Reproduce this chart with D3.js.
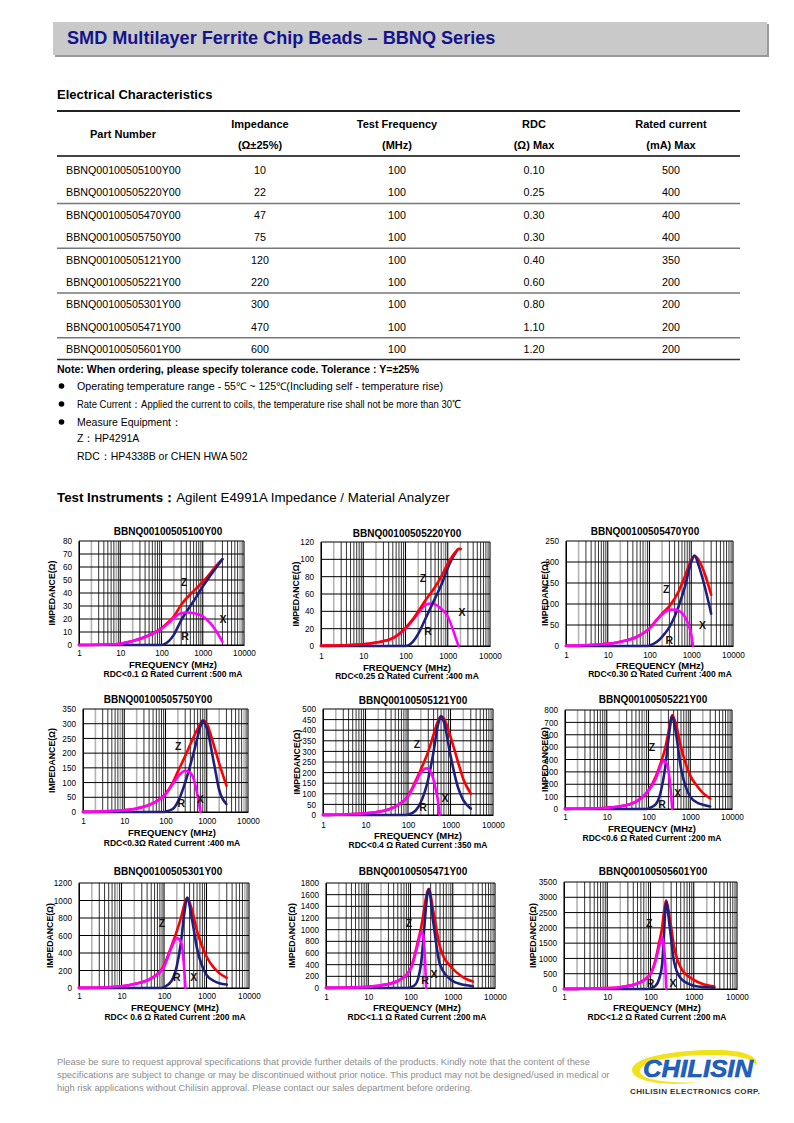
<!DOCTYPE html>
<html><head><meta charset="utf-8">
<script src="https://cdn.jsdelivr.net/npm/d3@7"></script>
<style>
body{margin:0;background:#fff;}
svg{display:block;font-family:"Liberation Sans",Arial,Helvetica,sans-serif;}
</style></head><body>
<svg id="page" width="794" height="1123"></svg>
<script>
// ---------------- table data ----------------
const headerTop = ["Part Number","Impedance","Test Frequency","RDC","Rated current"];
const headerBottom = ["","(Ω±25%)","(MHz)","(Ω) Max","(mA) Max"];
const partNumbers = ["BBNQ00100505100Y00","BBNQ00100505220Y00","BBNQ00100505470Y00","BBNQ00100505750Y00","BBNQ00100505121Y00","BBNQ00100505221Y00","BBNQ00100505301Y00","BBNQ00100505471Y00","BBNQ00100505601Y00"];
const impedanceValues = ["10","22","47","75","120","220","300","470","600"];
const testFrequency = ["100","100","100","100","100","100","100","100","100"];
const rdcMax = ["0.10","0.25","0.30","0.30","0.40","0.60","0.80","1.10","1.20"];
const ratedCurrent = ["500","400","400","400","350","200","200","200","200"];

const noteLines = ["Operating temperature range - 55℃ ~ 125℃(Including self - temperature rise)",
  "Rate Current：Applied the current to coils, the temperature rise shall not be more than 30℃",
  "Measure Equipment："];
const equipLines = ["Z：HP4291A","RDC：HP4338B or CHEN HWA 502"];
const footerLines = ["Please be sure to request approval specifications that provide further details of the products. Kindly note that the content of these",
  "specifications are subject to change or may be discontinued without prior notice. This product may not be designed/used in medical or",
  "high risk applications without Chilisin approval. Please contact our sales department before ordering."];

// ---------------- chart data ----------------
const chartTitles = ["BBNQ00100505100Y00","BBNQ00100505220Y00","BBNQ00100505470Y00","BBNQ00100505750Y00","BBNQ00100505121Y00","BBNQ00100505221Y00","BBNQ00100505301Y00","BBNQ00100505471Y00","BBNQ00100505601Y00"];
const chartNotes = ["RDC<0.1 Ω Rated Current :500 mA","RDC<0.25 Ω Rated Current :400 mA","RDC<0.30 Ω Rated Current :400 mA","RDC<0.3Ω Rated Current :400 mA","RDC<0.4 Ω Rated Current :350  mA","RDC<0.6 Ω Rated Current :200 mA","RDC< 0.6 Ω Rated Current :200 mA","RDC<1.1 Ω Rated Current :200 mA","RDC<1.2 Ω Rated Current :200 mA"];
const yMaxValues = [80,120,250,350,500,800,1200,1800,3500];
const yStepValues = [10,20,50,50,50,100,200,200,500];
const xTickLabels = ["1","10","100","1000","10000"];

// [frequency MHz, ohms]
const z100 = [[1,0],[5,0.4],[10,1],[20,3],[50,7.5],[100,13],[150,18],[200,22],[300,31],[500,39],[700,43.5],[1000,48.5],[1500,55],[2000,60],[3000,66]];
const r100 = [[1,0],[100,0],[120,0.8],[150,3],[200,8],[300,19],[500,30],[700,37],[1000,45],[1500,53],[2000,58.5],[3000,66]];
const x100 = [[1,0],[5,0.4],[10,1],[20,3],[50,7.5],[100,12.5],[150,17],[200,21],[300,24.5],[400,25],[700,24],[1000,22],[1500,17],[2000,12],[3000,2.5]];

const z220 = [[1,0.3],[2,0.6],[5,1.2],[10,2],[20,4],[50,9],[100,21],[150,31],[200,40],[300,53],[500,68],[700,80],[1000,95],[1500,108],[1800,112],[2000,112]];
const r220 = [[1,0],[100,0],[120,1],[150,5],[200,14],[300,32],[500,55],[700,70],[1000,90],[1500,107],[1800,112],[2000,112]];
const x220 = [[1,0.3],[2,0.6],[5,1.2],[10,2],[20,4],[50,9],[100,20],[150,30],[200,38],[300,47.5],[400,49],[500,48],[700,43],[1000,34],[1300,20],[1600,7],[1800,0]];

const z470 = [[1,0.5],[2,1],[5,3],[10,5],[20,10],[50,22],[100,42],[150,63],[200,77],[300,95],[500,130],[700,165],[1000,205],[1200,215],[1500,205],[2000,178],[3000,122]];
const r470 = [[1,0],[90,0],[100,1],[150,10],[200,22],[300,45],[500,95],[700,140],[1000,200],[1200,215],[1500,192],[2000,150],[3000,77]];
const x470 = [[1,0.5],[2,1],[5,3],[10,5],[20,10],[50,22],[100,42],[150,62],[200,75],[300,86],[400,87],[500,84],[700,70],[900,45],[1000,28],[1100,0]];

const z750 = [[1,0.5],[2,1],[5,3],[10,6],[20,12],[50,30],[100,62],[150,100],[200,138],[300,190],[500,260],[700,300],[800,312],[1000,300],[1500,225],[2000,165],[3000,90]];
const r750 = [[1,0],[90,0],[100,1],[150,10],[200,35],[300,100],[500,210],[700,290],[800,310],[1000,285],[1500,165],[2000,75],[3000,27]];
const x750 = [[1,0.5],[2,1],[5,3],[10,6],[20,12],[50,30],[100,60],[150,95],[200,120],[300,140],[400,133],[500,105],[600,55],[700,0]];

const z121 = [[1,0.5],[2,1],[5,4],[10,8],[20,15],[50,40],[100,90],[150,160],[200,215],[300,300],[400,380],[500,440],[600,465],[700,455],[1000,370],[1500,250],[2000,170],[3000,100]];
const r121 = [[1,0],[90,0],[100,2],[150,20],[200,60],[300,170],[400,300],[500,420],[600,465],[700,440],[1000,280],[1500,130],[2000,70],[3000,30]];
const x121 = [[1,0.5],[2,1],[5,4],[10,8],[20,15],[50,40],[100,88],[150,150],[200,200],[270,220],[350,200],[450,120],[520,50],[550,0]];

const z221 = [[1,1],[2,2],[5,5],[10,10],[20,20],[50,60],[100,150],[150,265],[200,380],[250,490],[300,620],[370,760],[450,690],[600,500],[1000,270],[1500,180],[2000,130],[3000,85]];
const r221 = [[1,0],[90,0],[100,5],[150,40],[200,150],[250,330],[300,560],[370,750],[450,620],[600,330],[1000,100],[1500,50],[2000,35],[3000,20]];
const x221 = [[1,1],[2,2],[5,5],[10,10],[20,20],[50,60],[100,150],[150,245],[200,360],[230,390],[280,360],[330,200],[370,0]];

const z301 = [[1,1],[2,3],[5,8],[10,20],[20,45],[50,110],[100,260],[150,480],[200,650],[250,800],[300,950],[350,1030],[450,900],[600,650],[1000,360],[1500,230],[2000,170],[3000,115]];
const r301 = [[1,0],[90,0],[100,10],[150,80],[200,250],[250,520],[300,850],[350,1030],[450,800],[600,450],[1000,150],[1500,80],[2000,55],[3000,40]];
const x301 = [[1,1],[2,3],[5,8],[10,20],[20,45],[50,110],[100,240],[150,460],[200,570],[250,530],[290,300],[320,0]];

const z471 = [[1,2],[2,4],[5,10],[10,20],[20,45],[50,120],[100,330],[150,800],[180,1050],[200,1250],[250,1650],[270,1700],[350,1300],[500,700],[1000,330],[1500,220],[2000,160],[3000,110]];
const r471 = [[1,0],[90,0],[100,10],[130,60],[150,150],[180,450],[200,800],[250,1600],[270,1690],[350,1100],[500,400],[1000,120],[1500,70],[2000,50],[3000,30]];
const x471 = [[1,2],[2,4],[5,10],[10,20],[20,45],[50,120],[100,320],[150,750],[180,960],[200,900],[220,500],[235,0]];

const z601 = [[1,2],[2,5],[5,12],[10,30],[20,60],[50,180],[100,500],[130,950],[160,1550],[185,2000],[200,2400],[230,2900],[280,2300],[350,1400],[500,700],[1000,300],[1500,180],[2000,130],[3000,80]];
const r601 = [[1,0],[80,0],[100,20],[130,100],[160,350],[185,800],[200,1500],[230,2850],[280,2000],[350,900],[500,350],[1000,110],[1500,70],[2000,55],[3000,40]];
const x601 = [[1,2],[2,5],[5,12],[10,30],[20,60],[50,180],[100,480],[130,900],[160,1400],[185,1700],[200,1500],[220,800],[232,0]];

const zSeries = [z100,z220,z470,z750,z121,z221,z301,z471,z601];
const rSeries = [r100,r220,r470,r750,r121,r221,r301,r471,r601];
const xSeries = [x100,x220,x470,x750,x121,x221,x301,x471,x601];

// curve label anchors [freq, ohms] for Z, R, X
const zLabelAt = [[350,48],[260,78],[250,136],[204,224],[163,335],[121,500],[90,743],[92,1114],[93,2160]];
const rLabelAt = [[370,7],[340,17],[300,14],[240,30],[225,38],[210,40],[200,125],[220,137],[100,196]];
const xLabelAt = [[3100,20],[2180,39],[1860,50],[700,44],[740,80],[500,130],[500,125],[360,240],[330,196]];

// ---------------- layout (not data) ----------------
const boxes = [
 {l:79,r:244,t:541,b:645,tx:168,ty:535,fx:173,fy:668,ry:677,yl:52},
 {l:321,r:490,t:542,b:646,tx:407,ty:537,fx:407,fy:671,ry:679,yl:296},
 {l:566,r:733,t:541,b:646,tx:645,ty:535,fx:660,fy:669,ry:677,yl:545},
 {l:83,r:248,t:709,b:812,tx:158,ty:703,fx:172,fy:836,ry:846,yl:52},
 {l:323,r:493,t:709,b:815,tx:413,ty:704,fx:418,fy:839,ry:848,yl:297},
 {l:565,r:732,t:710,b:809,tx:653,ty:703,fx:652,fy:832,ry:841,yl:545},
 {l:79,r:249,t:883,b:988,tx:168,ty:875,fx:175,fy:1011,ry:1020,yl:50},
 {l:326,r:495,t:883,b:988,tx:413,ty:875,fx:417,fy:1011,ry:1020,yl:292},
 {l:564,r:737,t:882,b:989,tx:653,ty:875,fx:657,fy:1011,ry:1020,yl:533}
];
const tickOffset = [11,13,12,12,13,11,11,12,11];
const redOnTop = [false,true,false,false,false,false,false,false,false];
const noteWidths = [366,384,null];

const svg = d3.select("#page");

// ---------------- header ----------------
svg.append("rect").attr("x",55).attr("y",24).attr("width",714).attr("height",33).attr("fill","#9a9a9a");
svg.append("rect").attr("x",53).attr("y",22).attr("width",714).attr("height",33).attr("fill","#c9c9c9");
svg.append("text").attr("x",67).attr("y",44).attr("font-size",18.1).attr("font-weight","bold")
  .attr("fill","#14148a").text("SMD Multilayer Ferrite Chip Beads – BBNQ Series");

svg.append("text").attr("x",57).attr("y",99).attr("font-size",13).attr("font-weight","bold").text("Electrical Characteristics");

// ---------------- table ----------------
const colCenters = [123,260,397,534,671];
svg.append("line").attr("x1",57).attr("x2",740).attr("y1",111).attr("y2",111).attr("stroke","#222").attr("stroke-width",2);
svg.append("line").attr("x1",57).attr("x2",740).attr("y1",156).attr("y2",156).attr("stroke","#444").attr("stroke-width",2);
headerTop.forEach((h,i)=>{
  svg.append("text").attr("x",colCenters[i]).attr("y", i===0?138:127.5).attr("text-anchor","middle")
    .attr("font-size",11).attr("font-weight","bold").text(h);
  if(headerBottom[i]) svg.append("text").attr("x",colCenters[i]).attr("y",149).attr("text-anchor","middle")
    .attr("font-size",11).attr("font-weight","bold").text(headerBottom[i]);
});
const rowY = d3.scaleLinear().domain([0,8]).range([170,349]);
partNumbers.forEach((p,i)=>{
  const y = rowY(i)+4;
  svg.append("text").attr("x",66).attr("y",y).attr("font-size",10.7).text(p);
  [impedanceValues[i],testFrequency[i],rdcMax[i],ratedCurrent[i]].forEach((v,j)=>{
    svg.append("text").attr("x",colCenters[j+1]).attr("y",y).attr("text-anchor","middle").attr("font-size",10.7).text(v);
  });
});
[1,3,5,7].forEach(i=>{
  const y=(rowY(i)+rowY(i+1))/2;
  svg.append("line").attr("x1",57).attr("x2",740).attr("y1",y).attr("y2",y).attr("stroke","#777").attr("stroke-width",1.5);
});
svg.append("line").attr("x1",57).attr("x2",740).attr("y1",359.5).attr("y2",359.5).attr("stroke","#333").attr("stroke-width",1.5);

// ---------------- notes ----------------
svg.append("text").attr("x",57).attr("y",373).attr("font-size",10.5).attr("font-weight","bold")
  .text("Note: When ordering, please specify tolerance code. Tolerance : Y=±25%");
noteLines.forEach((t,i)=>{
  const y=386+i*18;
  svg.append("circle").attr("cx",61.5).attr("cy",y).attr("r",2.8).attr("fill","#000");
  const tx = svg.append("text").attr("x",77).attr("y",y+3.8).attr("font-size",10.5).text(t);
  if(noteWidths[i]) tx.attr("textLength",noteWidths[i]).attr("lengthAdjust","spacingAndGlyphs");
});
equipLines.forEach((t,i)=>{
  svg.append("text").attr("x",77).attr("y",442+i*18).attr("font-size",10.5).text(t);
});
const ti = svg.append("text").attr("x",57).attr("y",501.5).attr("font-size",13.3);
ti.append("tspan").attr("font-weight","bold").text("Test Instruments：");
ti.append("tspan").text("Agilent E4991A Impedance / Material Analyzer");

// ---------------- charts ----------------
boxes.forEach((bx,k)=>{
  const g = svg.append("g");
  const x = d3.scaleLog().domain([1,10000]).range([bx.l,bx.r]);
  const y = d3.scaleLinear().domain([0,yMaxValues[k]]).range([bx.b,bx.t]);
  const vlines=[];
  for(let d=1; d<10000; d*=10){ for(let n=1;n<10;n++) vlines.push(n*d); }
  vlines.push(10000);
  vlines.forEach(v=>{
    const n = Math.round(v/Math.pow(10,Math.floor(Math.log10(v)+1e-9)));
    const gray = (n===2) || ((k+Math.floor(Math.log10(v)))%3===0 && n===8);
    g.append("line").attr("x1",x(v)).attr("x2",x(v)).attr("y1",bx.t).attr("y2",bx.b)
      .attr("stroke", gray?"#b4b4b4":"#000").attr("stroke-width", gray?1.6:(n===1?1.1:0.8));
  });
  const yt = d3.range(0, yMaxValues[k]+1e-6, yStepValues[k]);
  yt.forEach(v=>{
    g.append("line").attr("x1",bx.l).attr("x2",bx.r).attr("y1",y(v)).attr("y2",y(v))
      .attr("stroke","#000").attr("stroke-width",v===0?1.2:1);
  });
  const ya = d3.axisLeft(y).tickValues(yt).tickSize(0).tickPadding(7).tickFormat(d3.format("d"));
  const yg = g.append("g").attr("transform",`translate(${bx.l},0)`).call(ya);
  yg.select(".domain").attr("stroke","#000");
  yg.selectAll("text").attr("font-size",8.2).attr("font-family","Liberation Sans, Arial, sans-serif").attr("fill","#000");
  const xa = d3.axisBottom(x).tickValues([1,10,100,1000,10000]).tickSize(0).tickPadding(0)
      .tickFormat((d,i)=>xTickLabels[i]);
  const xg = g.append("g").attr("transform",`translate(0,${bx.b})`).call(xa);
  xg.select(".domain").attr("stroke","#000");
  xg.selectAll("text").attr("font-size",8.2).attr("font-family","Liberation Sans, Arial, sans-serif").attr("fill","#000")
    .attr("dy",null).attr("y",tickOffset[k]);
  const line = d3.line().x(d=>x(d[0])).y(d=>y(d[1])).curve(d3.curveMonotoneX);
  const drawOne=(data,color)=>g.append("path").datum(data).attr("d",line).attr("fill","none")
      .attr("stroke",color).attr("stroke-width",2.6).attr("stroke-linejoin","round").attr("stroke-linecap","round");
  if(redOnTop[k]){ drawOne(xSeries[k],"#ff00ff"); drawOne(rSeries[k],"#1f1f7e"); drawOne(zSeries[k],"#ff0000"); }
  else { drawOne(zSeries[k],"#ff0000"); drawOne(rSeries[k],"#1f1f7e"); drawOne(xSeries[k],"#ff00ff"); }
  [["Z",zLabelAt[k]],["R",rLabelAt[k]],["X",xLabelAt[k]]].forEach(([t,p])=>{
    g.append("text").attr("x",x(p[0])).attr("y",y(p[1])).attr("dy","0.35em").attr("text-anchor","middle")
      .attr("font-size",10.5).attr("font-weight","bold").attr("fill","#111").text(t);
  });
  g.append("text").attr("x",bx.tx).attr("y",bx.ty).attr("text-anchor","middle").attr("font-size",10)
    .attr("font-weight","bold").text(chartTitles[k]);
  g.append("text").attr("x",bx.fx).attr("y",bx.fy).attr("text-anchor","middle").attr("font-size",9.5)
    .attr("font-weight","bold").text("FREQUENCY (MHz)");
  g.append("text").attr("x",bx.fx).attr("y",bx.ry).attr("text-anchor","middle").attr("font-size",8.5)
    .attr("font-weight","bold").text(chartNotes[k]);
  g.append("text").attr("transform",`translate(${bx.yl+3},${(bx.t+bx.b)/2}) rotate(-90)`).attr("text-anchor","middle")
    .attr("font-size",8.7).attr("font-weight","bold").text("IMPEDANCE(Ω)");
});

// ---------------- footer ----------------
footerLines.forEach((t,i)=>{
  svg.append("text").attr("x",57).attr("y",1065+i*13).attr("font-size",9.35).attr("fill","#8c8c8c").text(t);
});
const logo = svg.append("g");
logo.append("path").attr("d","M632,1070 C632,1056 680,1049 722,1050 C748,1051 760,1058 756,1066 C754,1058 735,1055 712,1055 C676,1055 640,1061 640,1071 C640,1080 670,1084 700,1082 C668,1087 632,1082 632,1070 Z")
  .attr("fill","#f2e21a");
logo.append("text").attr("x",698).attr("y",1077).attr("text-anchor","middle").attr("font-size",23)
  .attr("font-weight","900").attr("font-style","italic").attr("fill","#1c63c6").attr("stroke","#0d3f99").attr("stroke-width",0.5)
  .attr("textLength",110).attr("lengthAdjust","spacingAndGlyphs").text("CHILISIN");
logo.append("text").attr("x",695).attr("y",1094).attr("text-anchor","middle").attr("font-size",8)
  .attr("font-weight","bold").attr("fill","#333").attr("textLength",130).text("CHILISIN ELECTRONICS CORP.");
</script>
</body></html>
